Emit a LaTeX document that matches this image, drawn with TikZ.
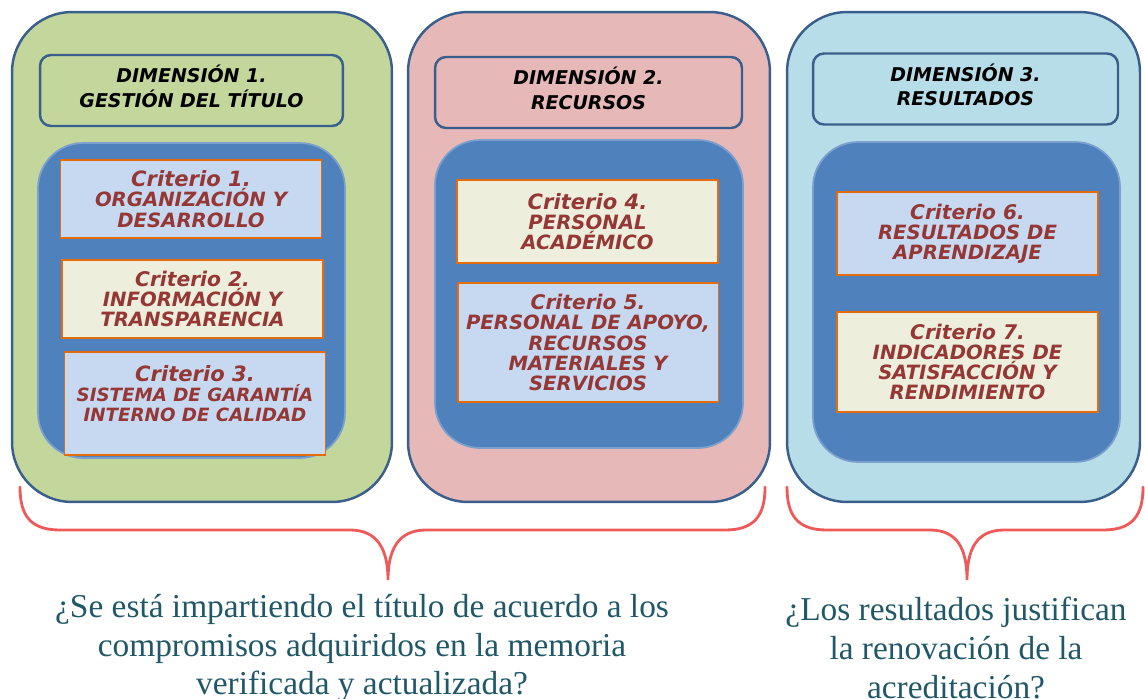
\documentclass[tikz,border=0pt]{standalone}
\usepackage{fontspec}
\usepackage{xcolor}
\usepackage{tikz}
\usetikzlibrary{positioning}

\newfontfamily\boxfont{DejaVu Sans}
\newfontfamily\questfont{Liberation Serif}

\definecolor{dimgreen}{HTML}{C3D69B}
\definecolor{dimpink}{HTML}{E6B9B8}
\definecolor{dimblue}{HTML}{B7DEE8}
\definecolor{frameblue}{HTML}{3B5F8C}
\definecolor{innerblue}{HTML}{4F81BD}
\definecolor{critblue}{HTML}{C6D9F1}
\definecolor{critcream}{HTML}{EEEEDC}
\definecolor{critorange}{HTML}{E46C0A}
\definecolor{critred}{HTML}{953735}
\definecolor{questteal}{HTML}{215868}
\definecolor{bracered}{HTML}{EE5A5A}

% bigger first line of a criterion box
\newcommand{\crittitle}[2][12]{{\fontsize{#1}{12}\selectfont #2}}

\begin{document}
\begin{tikzpicture}[x=0.02cm, y=-0.02cm,
	dimbox/.style={draw=frameblue, line width=1.4pt, rounded corners=1.2cm},
	headbox/.style={draw=frameblue, line width=1.4pt, rounded corners=0.22cm, align=center,
		minimum height=1.42cm, font=\boxfont\bfseries\itshape\fontsize{10.8}{14}\selectfont},
	innerbox/.style={fill=innerblue, draw=innerblue!75!white, line width=1pt, rounded corners=0.9cm},
	critbox/.style={draw=critorange, line width=1.1pt, text=critred, align=center, inner sep=0pt,
		minimum width=5.22cm, font=\boxfont\bfseries\itshape\fontsize{11.2}{11.5}\selectfont},
	brace/.style={draw=bracered, line width=1.6pt, line cap=round},
	question/.style={text=questteal, align=center, font=\questfont\fontsize{19}{22}\selectfont}]
	\useasboundingbox (0,0) rectangle (1145,699);

	% dimension frames
	\node[dimbox, fill=dimgreen, minimum width=7.6cm, minimum height=9.8cm] (dim1) at (202,257) {};
	\node[dimbox, fill=dimpink, minimum width=7.24cm, minimum height=9.8cm] (dim2) at (589,257) {};
	\node[dimbox, fill=dimblue, minimum width=7.06cm, minimum height=9.8cm] (dim3) at (963.5,257) {};

	% headers
	\node[headbox, fill=dimgreen, minimum width=6.06cm] (head1) at (191.5,90.5) {DIMENSIÓN 1.\\GESTIÓN DEL TÍTULO\\[-9pt]};
	\node[headbox, fill=dimpink, minimum width=6.14cm] (head2) at (588.5,92.5) {DIMENSIÓN 2.\\RECURSOS\\[-9pt]};
	\node[headbox, fill=dimblue, minimum width=6.1cm] (head3) at (965.5,89) {DIMENSIÓN 3.\\RESULTADOS\\[-9pt]};

	% inner panels
	\node[innerbox, minimum width=6.14cm, minimum height=6.3cm] (inner1) at (191.5,300.5) {};
	\node[innerbox, minimum width=6.16cm, minimum height=6.16cm] (inner2) at (589,294) {};
	\node[innerbox, minimum width=6.14cm, minimum height=6.4cm] (inner3) at (966.5,302) {};

	% criteria
	\node[critbox, fill=critblue, minimum height=1.56cm] (crit1) at (191,199) {\crittitle{Criterio 1.}\\ORGANIZACIÓN Y\\DESARROLLO};
	\node[critbox, fill=critcream, minimum height=1.56cm] (crit2) at (192.5,299) {\crittitle[11.5]{Criterio 2.}\\INFORMACIÓN Y\\TRANSPARENCIA};
	\node[critbox, fill=critblue, minimum height=2.06cm, font=\boxfont\bfseries\itshape\fontsize{10.4}{11.5}\selectfont] (crit3) at (195,403.5) {\crittitle{Criterio 3.}\\SISTEMA DE GARANTÍA\\INTERNO DE CALIDAD\\~};
	\node[critbox, fill=critcream, minimum height=1.66cm] (crit4) at (587.5,221.5) {\crittitle{Criterio 4.}\\PERSONAL\\ACADÉMICO};
	\node[critbox, fill=critblue, minimum height=2.38cm] (crit5) at (588,342.5) {\crittitle[11.5]{Criterio 5.}\\PERSONAL DE APOYO,\\RECURSOS\\MATERIALES Y\\SERVICIOS};
	\node[critbox, fill=critblue, minimum height=1.66cm] (crit6) at (967.5,233.5) {\crittitle[11.5]{Criterio 6.}\\RESULTADOS DE\\APRENDIZAJE};
	\node[critbox, fill=critcream, minimum height=2cm] (crit7) at (967.5,362) {\crittitle[11.5]{Criterio 7.}\\INDICADORES DE\\SATISFACCIÓN Y\\RENDIMIENTO};

	% braces
	\draw[brace] (20,487) .. controls (20,515) and (30,530) .. (60,530) -- (350,530)
		.. controls (378,530) and (388,550) .. (388,580)
		.. controls (388,550) and (398,530) .. (426,530) -- (725,530)
		.. controls (755,530) and (765,515) .. (765,487);
	\draw[brace] (787,487) .. controls (787,515) and (797,530) .. (827,530) -- (930,530)
		.. controls (958,530) and (967,550) .. (967,580)
		.. controls (967,550) and (976,530) .. (1004,530) -- (1103,530)
		.. controls (1133,530) and (1143,515) .. (1143,487);

	% questions
	\node[question] (quest1) at (362,648) {¿Se está impartiendo el título de acuerdo a los\\compromisos adquiridos en la memoria\\verificada y actualizada?};
	\node[question] (quest2) at (956,648) {¿Los resultados justifican\\la renovación de la\\acreditación?};
\end{tikzpicture}
\end{document}
